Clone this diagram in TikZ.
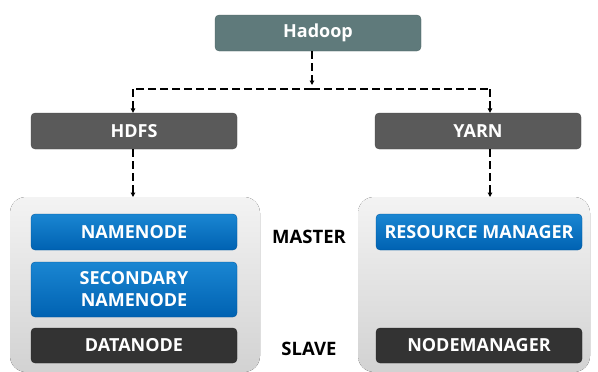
\documentclass[tikz,border=0pt]{standalone}
\usepackage{fontspec}
\setmainfont{Open Sans}
\usetikzlibrary{arrows.meta}
\definecolor{hadoopc}{HTML}{5F7A7B}
\definecolor{greyc}{HTML}{5A5A5A}
\definecolor{darkc}{HTML}{333333}
\definecolor{bluetop}{HTML}{1A86D2}
\definecolor{bluebot}{HTML}{0062B2}
\definecolor{paneltop}{HTML}{F3F3F3}
\definecolor{panelbot}{HTML}{D2D2D2}
\tikzset{
  box/.style={rounded corners=4pt, minimum width=206pt, text=white,
    font=\bfseries\fontsize{18}{22}\selectfont, align=center, inner sep=0pt},
  topbox/.style={box, fill=hadoopc, draw=hadoopc!80!black, line width=0.3pt, minimum height=36pt},
  midbox/.style={box, fill=greyc, draw=greyc!80!black, line width=0.3pt, minimum height=36pt},
  bluebox/.style={box, top color=bluetop, bottom color=bluebot, draw=bluebot!85!black, line width=0.3pt},
  darkbox/.style={box, fill=darkc, draw=darkc!70!black, line width=0.3pt, minimum height=35pt},
  panel/.style={rounded corners=16pt, top color=paneltop, bottom color=panelbot, draw=none},
  tag/.style={font=\bfseries\fontsize{18.5}{22}\selectfont, text=black},
  conn/.style={dash pattern=on 8pt off 4pt, line width=1.5pt, -{Triangle[length=4.5pt,width=4.5pt]}}
}
\begin{document}
\begin{tikzpicture}[x=1pt,y=-1pt]
  \useasboundingbox (0,0) rectangle (598,372);
  % container panels
  \fill[panel] (10,197) rectangle (260,372);
  \fill[panel] (358,197) rectangle (590,372);
  % top level
  \node[topbox] (hadoop) at (318,33) {Hadoop};
  \node[midbox] (hdfs) at (134,131) {HDFS};
  \node[midbox] (yarn) at (478,131) {YARN};
  \coordinate (busin) at (312,85);
  \coordinate (bus) at (312,89);
  \draw[conn] (hadoop.south -| busin) -- (busin);
  \draw[conn, -] (bus) -- (133,89) coordinate (busl);
  \draw[conn, -] (bus) -- (490,89) coordinate (busr);
  \draw[conn] (busl) -- (busl |- hdfs.north);
  \draw[conn] (busr) -- (busr |- yarn.north);
  % HDFS daemons
  \node[bluebox, minimum height=36pt] (nn) at (134,232) {NAMENODE};
  \node[bluebox, minimum height=55pt] (snn) at (134,289.5) {SECONDARY\\NAMENODE};
  \node[darkbox] (dn) at (134,345.5) {DATANODE};
  % YARN daemons
  \node[bluebox, minimum height=36pt] (rm) at (479,232) {RESOURCE MANAGER};
  \node[darkbox] (nm) at (479,345.5) {NODEMANAGER};
  \coordinate (hdfsin) at (133,197);
  \coordinate (yarnin) at (490,197);
  \draw[conn] (hdfs.south -| hdfsin) -- (hdfsin);
  \draw[conn] (yarn.south -| yarnin) -- (yarnin);
  % role labels
  \node[tag] (master) at (309,237) {MASTER};
  \node[tag] (slave) at (309,349) {SLAVE};
\end{tikzpicture}
\end{document}
